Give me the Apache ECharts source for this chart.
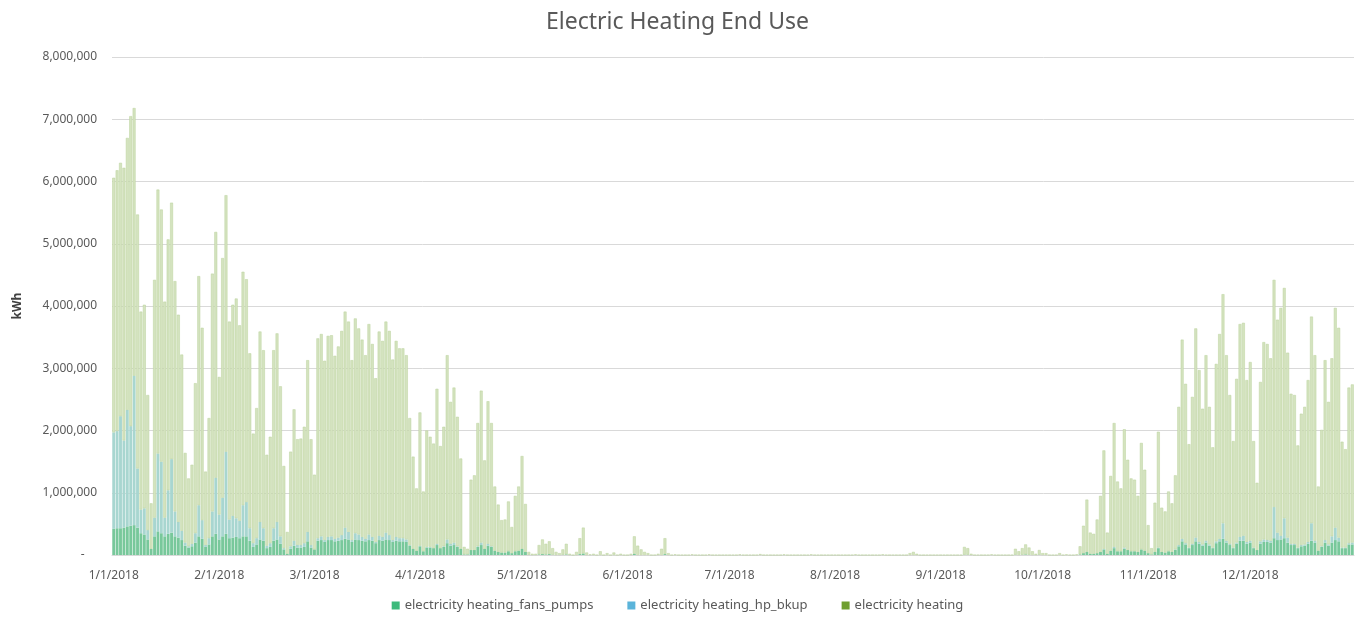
<!DOCTYPE html>
<html>
<head>
<meta charset="utf-8">
<title>Electric Heating End Use</title>
<script src="https://cdn.jsdelivr.net/npm/echarts@6/dist/echarts.min.js"></script>
<style>
html, body { margin: 0; padding: 0; background: #fff; }
#chart { width: 1355px; height: 617px; }
</style>
</head>
<body>
<div id="chart"></div>
<script>
// daily values for 2018, in thousands of kWh
var fansPumps = [
  // Jan
  420,430,430,440,460,470,480,440,350,330,250,100,300,380,350,300,340,360,300,280,240,150,120,140,200,300,260,130,170,300,340,
  // Feb
  250,300,340,270,280,290,270,300,300,230,130,170,250,230,110,130,230,250,180,90,20,100,150,120,120,130,220,120,
  // Mar
  90,230,240,210,240,240,220,230,240,260,250,210,250,240,230,220,240,230,190,240,230,250,240,210,230,220,220,210,150,100,70,
  // Apr
  140,60,120,120,110,160,110,130,190,150,160,130,100,10,10,80,80,130,160,100,150,130,70,50,40,40,60,30,60,70,
  // May
  100,50,5,0,0,10,15,10,15,5,0,0,5,10,0,0,0,15,25,0,0,0,0,0,0,0,0,0,0,0,0,
  // Jun
  0,0,20,0,0,0,0,0,0,0,0,15,0,0,0,0,0,0,0,0,0,0,0,0,0,0,0,0,0,0,
  // Jul
  0,0,0,0,0,0,0,0,0,0,0,0,0,0,0,0,0,0,0,0,0,0,0,0,0,0,0,0,0,0,0,
  // Aug
  0,0,0,0,0,0,0,0,0,0,0,0,0,0,0,0,0,0,0,0,0,0,0,0,0,0,0,0,0,0,0,
  // Sep
  0,0,0,0,0,0,0,5,5,0,0,0,0,0,0,0,0,0,0,0,0,0,5,0,5,10,5,0,0,5,
  // Oct
  0,0,0,0,0,0,0,0,0,0,0,10,30,50,20,20,30,50,90,20,70,110,60,60,100,80,60,60,50,90,70,
  // Nov
  30,10,50,110,50,40,60,50,80,140,220,170,110,160,220,180,150,200,150,110,190,220,260,200,160,110,180,230,230,180,
  // Dec
  200,110,80,180,210,210,200,270,240,250,270,200,160,160,110,140,150,180,230,200,70,130,200,150,200,240,220,110,110,170,170
];

var hpBkup = [
  // Jan
  1550,1560,1800,1400,1870,1600,2400,950,380,420,150,0,300,1250,1150,300,700,1180,400,250,150,50,20,40,150,500,300,30,100,400,900,
  // Feb
  400,620,1320,300,350,300,280,500,550,200,60,100,280,200,40,60,200,280,120,20,0,40,80,40,40,60,150,40,
  // Mar
  0,40,60,30,50,60,40,50,80,180,120,30,100,90,60,40,90,60,20,70,60,110,80,30,60,50,50,40,10,0,0,
  // Apr
  10,0,10,10,0,20,0,10,60,30,40,10,0,0,0,0,0,10,40,0,30,10,0,0,0,0,0,0,0,0,
  // May
  0,0,0,0,0,0,0,0,0,0,0,0,0,0,0,0,0,0,0,0,0,0,0,0,0,0,0,0,0,0,0,
  // Jun
  0,0,0,0,0,0,0,0,0,0,0,0,0,0,0,0,0,0,0,0,0,0,0,0,0,0,0,0,0,0,
  // Jul
  0,0,0,0,0,0,0,0,0,0,0,0,0,0,0,0,0,0,0,0,0,0,0,0,0,0,0,0,0,0,0,
  // Aug
  0,0,0,0,0,0,0,0,0,0,0,0,0,0,0,0,0,0,0,0,0,0,0,0,0,0,0,0,0,0,0,
  // Sep
  0,0,0,0,0,0,0,0,0,0,0,0,0,0,0,0,0,0,0,0,0,0,0,0,0,0,0,0,0,0,
  // Oct
  0,0,0,0,0,0,0,0,0,0,0,0,0,0,0,0,0,0,10,0,0,20,0,0,20,0,0,0,0,0,0,
  // Nov
  0,0,0,10,0,0,0,0,10,20,40,20,10,20,60,30,20,30,20,10,30,40,250,30,20,10,20,60,80,30,
  // Dec
  30,10,0,40,40,30,30,500,120,60,320,80,20,20,10,20,20,30,280,30,0,10,40,20,100,200,60,10,10,20,30
];

var heating = [
  // Jan
  4090,4190,4070,4380,4370,4980,4300,4080,3180,3270,2170,730,3820,4240,4050,3470,4030,4120,3700,3330,2830,1440,1090,1270,2410,3680,3090,1180,1930,3820,3950,
  // Feb
  2210,3850,4120,3180,3390,3530,3140,3750,3580,2810,1760,2090,3060,2860,1460,1710,2860,3030,2410,1320,350,1520,2110,1700,1710,1870,2760,1700,
  // Mar
  1200,3210,3250,2880,3230,3230,2940,3070,3280,3470,3380,2890,3450,3310,3170,2950,3380,3100,2630,3280,3150,3390,3280,2900,3150,3050,3050,2960,2040,1480,1000,
  // Apr
  2140,960,1870,1770,1680,2490,1640,1920,2960,2280,2490,2080,1450,120,90,1130,1200,1980,2440,1420,2290,1980,1030,760,520,530,800,420,890,1030,
  // May
  1490,770,45,20,20,150,235,170,205,105,50,30,85,170,20,0,50,255,415,40,10,20,0,60,0,30,0,40,0,20,0,
  // Jun
  0,20,280,150,90,50,30,0,0,20,100,255,30,0,10,0,0,0,0,10,0,0,0,0,10,0,0,0,0,0,
  // Jul
  0,0,0,10,0,0,0,0,0,15,0,0,0,0,0,0,10,0,0,0,0,0,0,0,10,0,0,0,0,0,0,
  // Aug
  0,0,0,0,0,0,10,0,0,0,0,0,0,0,10,0,0,0,0,0,0,0,30,50,20,0,0,0,0,0,0,
  // Sep
  0,0,0,0,0,0,0,125,105,20,0,0,0,0,0,10,0,0,0,0,0,0,95,60,105,160,115,60,20,75,
  // Oct
  30,30,0,0,0,30,0,10,0,0,10,130,440,840,340,320,540,900,1580,340,1200,1990,1120,1010,1900,1450,1170,1150,900,1710,1300,
  // Nov
  450,100,790,1860,710,660,960,780,1190,2220,3200,2560,1660,2360,3360,2760,2180,2980,2210,1610,2850,3290,3680,2980,2390,1710,2630,3420,3420,2600,
  // Dec
  2870,1710,1080,2560,3170,3150,2930,3650,3420,3660,3700,2970,2410,2390,1640,2110,2210,2600,3320,2980,1030,1870,2890,2290,2860,3530,3370,1700,1580,2500,2540
];

var seriesNames = ['electricity heating_fans_pumps', 'electricity heating_hp_bkup', 'electricity heating'];
var legendColors = ['#3dba7b', '#5bb4da', '#6f9f2f'];
var barColors = ['#78c89b', '#a8d6d0', '#d4e3bf'];

// one category per day of 2018, labelled like 1/1/2018
var days = [];
for (var i = 0; i < 365; i++) {
    var dt = new Date(Date.UTC(2018, 0, 1 + i));
    days.push((dt.getUTCMonth() + 1) + '/' + dt.getUTCDate() + '/2018');
}

function kwh(arr) {
    return arr.map(function (v) { return v * 1000; });
}

var values = [fansPumps, hpBkup, heating];
var series = [];
for (var s = 0; s < 3; s++) {
    series.push({
        name: seriesNames[s],
        type: 'bar',
        stack: 'total',
        barCategoryGap: '15%',
        itemStyle: {
            color: barColors[s],
            borderColor: s === 2 ? '#bad29c' : barColors[s],
            borderWidth: s === 2 ? 0.5 : 0
        },
        emphasis: { disabled: true },
        data: kwh(values[s])
    });
}

var chart = echarts.init(document.getElementById('chart'));
chart.setOption({
    animation: false,
    backgroundColor: '#ffffff',
    textStyle: { fontFamily: 'Noto Sans' },
    title: {
        text: 'Electric Heating End Use',
        left: 'center',
        top: 6,
        textStyle: { fontSize: 23, fontWeight: 'normal', color: '#595959', fontFamily: 'Noto Sans' }
    },
    legend: {
        bottom: 0,
        left: 'center',
        itemWidth: 8,
        itemHeight: 8,
        itemGap: 34,
        icon: 'rect',
        textStyle: { fontSize: 13, color: '#595959' },
        data: seriesNames.map(function (n, k) {
            return { name: n, itemStyle: { color: legendColors[k], borderWidth: 0 } };
        })
    },
    grid: { left: 112, right: 1, top: 57, bottom: 62 },
    xAxis: {
        type: 'category',
        data: days,
        axisLine: { lineStyle: { color: '#d9d9d9' } },
        axisTick: { show: false },
        axisLabel: {
            interval: function (idx, val) { return val.split('/')[1] === '1'; },
            color: '#595959',
            fontSize: 12,
            margin: 15
        }
    },
    yAxis: {
        type: 'value',
        min: 0,
        max: 8000000,
        interval: 1000000,
        name: 'kWh',
        nameLocation: 'middle',
        nameGap: 88,
        nameTextStyle: { fontSize: 12, fontWeight: 'bold', color: '#404040' },
        axisLine: { show: false },
        axisTick: { show: false },
        axisLabel: {
            color: '#595959',
            fontSize: 12,
            margin: 15,
            formatter: function (v) { return v === 0 ? '-    ' : v.toLocaleString('en-US'); }
        },
        splitLine: { lineStyle: { color: '#d9d9d9', width: 1 } }
    },
    series: series
});
</script>
</body>
</html>
